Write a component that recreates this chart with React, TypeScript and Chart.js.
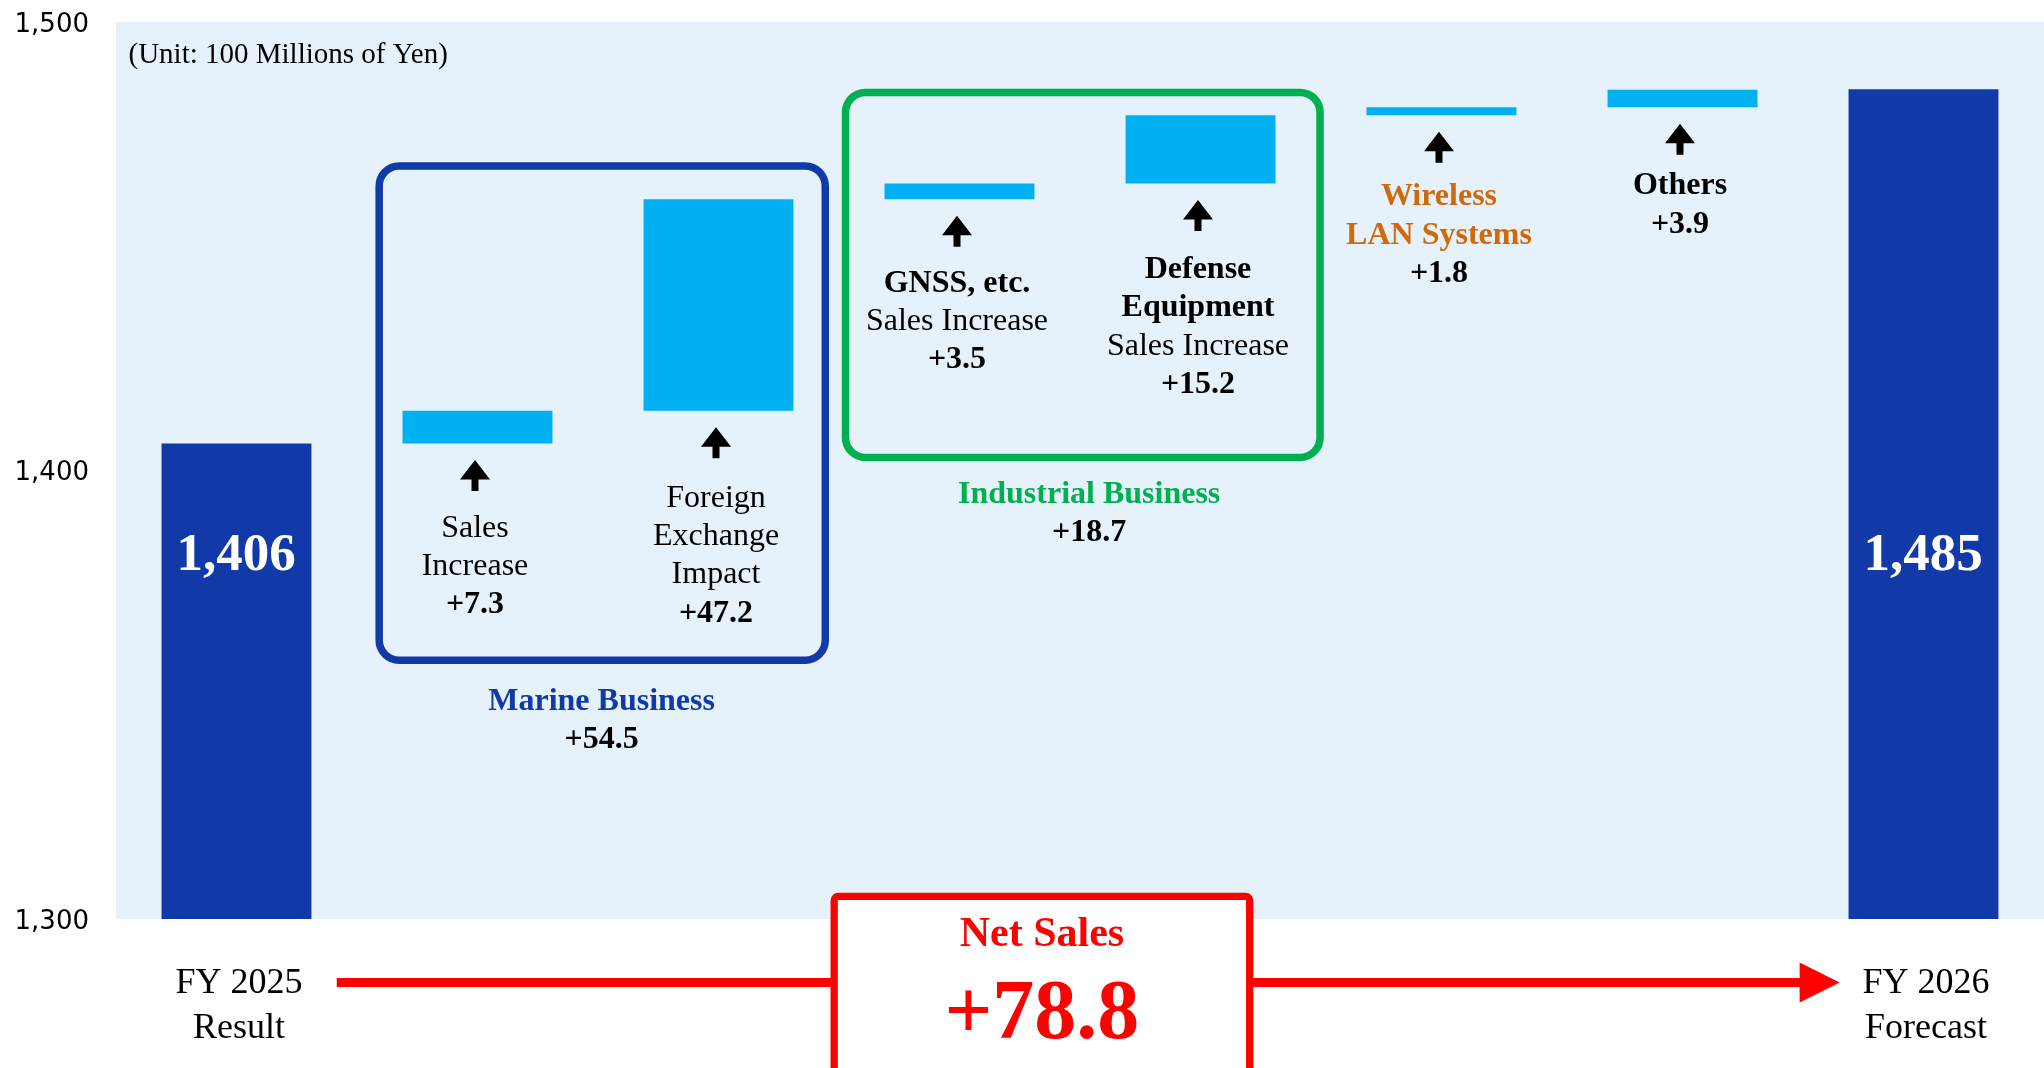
import React, { useEffect, useRef } from 'react';
import { Chart, registerables } from 'chart.js';

Chart.register(...registerables);

// ---------------- data ----------------
const categories = [
  'FY 2025 Result',
  'Sales Increase',
  'Foreign Exchange Impact',
  'GNSS, etc.',
  'Defense Equipment',
  'Wireless LAN Systems',
  'Others',
  'FY 2026 Forecast',
];
const startTotal = 1406;
const endTotal = 1485;
const stepDeltas = [7.3, 47.2, 3.5, 15.2, 1.8, 3.9];
const netSalesChange = 78.8;
const yTickValues = [1300, 1400, 1500];
const unitNote = '(Unit: 100 Millions of Yen)';
const startAxisLabel = ['FY 2025', 'Result'];
const endAxisLabel = ['FY 2026', 'Forecast'];
const stepLabelLines = [
  ['Sales', 'Increase'],
  ['Foreign', 'Exchange', 'Impact'],
  ['GNSS, etc.', 'Sales Increase'],
  ['Defense', 'Equipment', 'Sales Increase'],
  ['Wireless', 'LAN Systems'],
  ['Others'],
];
const groupNames = ['Marine Business', 'Industrial Business'];
const groupStepIndices = [[0, 1], [2, 3]];
const netSalesTitle = 'Net Sales';

// ---------------- styles / layout ----------------
const SERIF = "'Liberation Serif', 'Times New Roman', Times, serif";
const SANS = "'DejaVu Sans', Verdana, sans-serif";
const DARK_BLUE = '#1139A8';
const CYAN = '#00B0F0';
const BG = '#E5F2FB';
const RED = '#FF0000';
const stepLabelBold = [
  [false, false],
  [false, false, false],
  [true, false],
  [true, true, false],
  [true, true],
  [true],
];
const stepLabelColor = ['#000', '#000', '#000', '#000', '#D0690C', '#000'];
const stepTextOffset = [93, 96, 92.5, 94.5, 90, 87];
const groupColors = [DARK_BLUE, '#00B050'];
// [leftIndex, rightIndex, topValue, bottomValue]
const groupBoxes = [
  [0.592, 2.443, 1467.9, 1357.7],
  [2.527, 4.496, 1484.3, 1402.9],
];
const groupLabelIndex = [1.515, 3.538];
const groupLabelDy = [49.5, 46];

function fmtDelta(v: number) {
  return '+' + v.toFixed(1);
}

function roundRectPath(ctx: CanvasRenderingContext2D, x: number, y: number, w: number, h: number, r: number) {
  ctx.beginPath();
  ctx.moveTo(x + r, y);
  ctx.lineTo(x + w - r, y);
  ctx.arcTo(x + w, y, x + w, y + r, r);
  ctx.lineTo(x + w, y + h - r);
  ctx.arcTo(x + w, y + h, x + w - r, y + h, r);
  ctx.lineTo(x + r, y + h);
  ctx.arcTo(x, y + h, x, y + h - r, r);
  ctx.lineTo(x, y + r);
  ctx.arcTo(x, y, x + r, y, r);
  ctx.closePath();
}

function drawUpArrow(ctx: CanvasRenderingContext2D, cx: number, tipY: number) {
  const headW = 30, headH = 19.5, stemW = 7, total = 31;
  ctx.beginPath();
  ctx.moveTo(cx, tipY);
  ctx.lineTo(cx + headW / 2, tipY + headH);
  ctx.lineTo(cx + stemW / 2, tipY + headH);
  ctx.lineTo(cx + stemW / 2, tipY + total);
  ctx.lineTo(cx - stemW / 2, tipY + total);
  ctx.lineTo(cx - stemW / 2, tipY + headH);
  ctx.lineTo(cx - headW / 2, tipY + headH);
  ctx.closePath();
  ctx.fill();
}

const annotationPlugin = {
  id: 'waterfallAnnotations',
  beforeDatasetsDraw(chart: any) {
    const { ctx, chartArea } = chart;
    ctx.save();
    ctx.fillStyle = BG;
    ctx.fillRect(chartArea.left, chartArea.top, chartArea.right - chartArea.left, chartArea.bottom - chartArea.top);
    ctx.restore();
  },
  afterDatasetsDraw(chart: any) {
    const { ctx, chartArea } = chart;
    const xs = chart.scales.x;
    const ys = chart.scales.y;
    const bars = chart.getDatasetMeta(0).data;
    ctx.save();

    // unit note
    ctx.fillStyle = '#000';
    ctx.font = `29px ${SERIF}`;
    ctx.textAlign = 'left';
    ctx.textBaseline = 'alphabetic';
    ctx.fillText(unitNote, chartArea.left + 12.5, chartArea.top + 41);

    // group boxes
    groupBoxes.forEach((b, gi) => {
      const x1 = xs.getPixelForValue(b[0]);
      const x2 = xs.getPixelForValue(b[1]);
      const y1 = ys.getPixelForValue(b[2]);
      const y2 = ys.getPixelForValue(b[3]);
      ctx.strokeStyle = groupColors[gi];
      ctx.lineWidth = 7.5;
      roundRectPath(ctx, x1, y1, x2 - x1, y2 - y1, 20);
      ctx.stroke();
      // group labels
      const cx = xs.getPixelForValue(groupLabelIndex[gi]);
      const base = y2 + groupLabelDy[gi];
      ctx.textAlign = 'center';
      ctx.font = `bold 32px ${SERIF}`;
      ctx.fillStyle = groupColors[gi];
      ctx.fillText(groupNames[gi], cx, base);
      const sum = groupStepIndices[gi].reduce((s, i) => s + stepDeltas[i], 0);
      ctx.fillStyle = '#000';
      ctx.fillText(fmtDelta(sum), cx, base + 38);
    });

    // arrows + step labels
    stepDeltas.forEach((d, i) => {
      const el = bars[i + 1];
      const cx = el.x - 2.5;
      const bottom = Math.max(el.y, el.base);
      ctx.fillStyle = '#000';
      drawUpArrow(ctx, cx, bottom + 16.5);
      const lines = stepLabelLines[i];
      let y = bottom + stepTextOffset[i];
      ctx.textAlign = 'center';
      lines.forEach((t, li) => {
        ctx.font = `${stepLabelBold[i][li] ? 'bold ' : ''}32px ${SERIF}`;
        ctx.fillStyle = stepLabelColor[i];
        ctx.fillText(t, cx, y);
        y += 38.3;
      });
      ctx.font = `bold 32px ${SERIF}`;
      ctx.fillStyle = '#000';
      ctx.fillText(fmtDelta(d), cx, y);
    });

    // total labels inside bars
    const totals = [startTotal, endTotal];
    [0, bars.length - 1].forEach((bi, k) => {
      const el = bars[bi];
      ctx.font = `bold 53px ${SERIF}`;
      ctx.fillStyle = '#FFFFFF';
      ctx.textAlign = 'center';
      ctx.fillText(totals[k].toLocaleString('en-US'), el.x - 0.5, ys.getPixelForValue(1377.8));
    });

    // red arrow line
    const lineY = chartArea.bottom + 63.5;
    const lx1 = xs.getPixelForValue(0.416);
    const lx2 = xs.getPixelForValue(6.486);
    const tipX = xs.getPixelForValue(6.652);
    ctx.strokeStyle = RED;
    ctx.lineWidth = 9;
    ctx.beginPath();
    ctx.moveTo(lx1, lineY);
    ctx.lineTo(lx2 + 1, lineY);
    ctx.stroke();
    ctx.fillStyle = RED;
    ctx.beginPath();
    ctx.moveTo(lx2, lineY - 20);
    ctx.lineTo(tipX, lineY);
    ctx.lineTo(lx2, lineY + 20);
    ctx.closePath();
    ctx.fill();

    // net sales box
    const bx1 = xs.getPixelForValue(2.48);
    const bx2 = xs.getPixelForValue(4.204);
    const by1 = chartArea.bottom - 22.6;
    const by2 = chart.height + 20;
    roundRectPath(ctx, bx1, by1, bx2 - bx1, by2 - by1, 4);
    ctx.fillStyle = '#FFFFFF';
    ctx.fill();
    ctx.strokeStyle = RED;
    ctx.lineWidth = 7.3;
    ctx.stroke();
    const bcx = (bx1 + bx2) / 2;
    ctx.fillStyle = RED;
    ctx.textAlign = 'center';
    ctx.font = `bold 42px ${SERIF}`;
    ctx.fillText(netSalesTitle, bcx, chartArea.bottom + 26.7);
    ctx.font = `bold 84px ${SERIF}`;
    ctx.fillText(fmtDelta(netSalesChange), bcx, chartArea.bottom + 119.3);

    // FY axis labels
    ctx.fillStyle = '#000';
    ctx.font = `36px ${SERIF}`;
    const axisLabels = [startAxisLabel, endAxisLabel];
    [0, bars.length - 1].forEach((bi, k) => {
      const cx = bars[bi].x + 2.5;
      axisLabels[k].forEach((t, li) => {
        ctx.fillText(t, cx, chartArea.bottom + 74 + li * 44.7);
      });
    });

    ctx.restore();
  },
};

export default function App() {
  const ref = useRef<HTMLCanvasElement>(null);

  useEffect(() => {
    const values: any[] = [startTotal];
    let run = startTotal;
    stepDeltas.forEach((d) => {
      values.push([run, run + d]);
      run += d;
    });
    values.push(endTotal);
    const colors = categories.map((_, i) => (i === 0 || i === categories.length - 1 ? DARK_BLUE : CYAN));

    const chart = new Chart(ref.current as HTMLCanvasElement, {
      type: 'bar',
      data: {
        labels: categories,
        datasets: [
          {
            data: values,
            backgroundColor: colors,
            borderWidth: 0,
            barPercentage: 0.622,
            categoryPercentage: 1,
          },
        ],
      },
      options: {
        animation: false,
        responsive: false,
        devicePixelRatio: 1,
        layout: { padding: { top: 22, right: 0, bottom: 149, left: 0 } },
        plugins: {
          legend: { display: false },
          tooltip: { enabled: false },
          title: { display: false },
        },
        scales: {
          x: { display: false, offset: true, grid: { display: false } },
          y: {
            min: yTickValues[0],
            max: yTickValues[yTickValues.length - 1],
            afterFit: (s: any) => {
              s.width = 116;
              s.paddingTop = 0;
              s.paddingBottom = 0;
            },
            afterBuildTicks: (s: any) => {
              s.ticks = yTickValues.map((v) => ({ value: v }));
            },
            ticks: {
              padding: 27,
              labelOffset: 3,
              color: '#000',
              font: { family: SANS, size: 26 },
              callback: (v: any) => Number(v).toLocaleString('en-US'),
            },
            grid: { display: false, drawTicks: false },
            border: { display: false },
          },
        },
      } as any,
      plugins: [annotationPlugin],
    });
    return () => chart.destroy();
  }, []);

  return (
    <div style={{ position: 'absolute', left: 0, top: 0, width: 2044, height: 1068, background: '#fff' }}>
      <canvas ref={ref} width={2044} height={1068} style={{ display: 'block', width: 2044, height: 1068 }} />
    </div>
  );
}
